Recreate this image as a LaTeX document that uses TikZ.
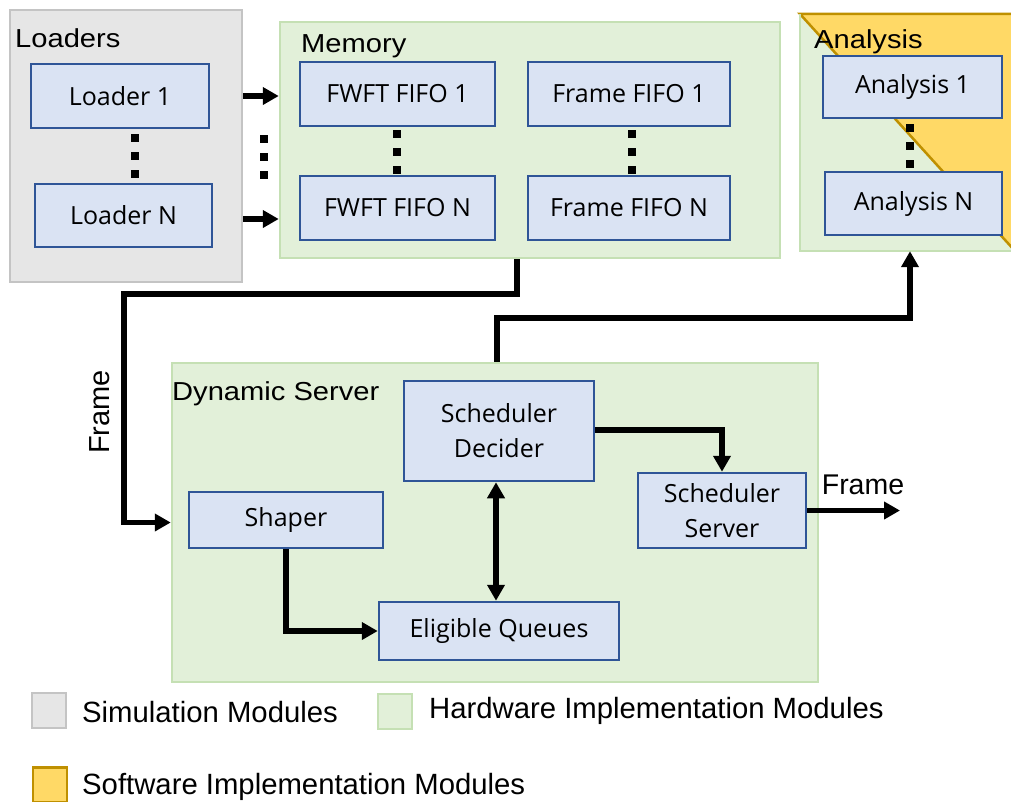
\documentclass[tikz,border=0pt]{standalone}
\usepackage{fontspec}
\setmainfont{Open Sans}
\newfontfamily\grpfont{Liberation Sans}[FakeStretch=1.12]
\newfontfamily\arialfont{Liberation Sans}
\usetikzlibrary{arrows.meta}
\definecolor{blkfill}{HTML}{DAE3F3}
\definecolor{blkline}{HTML}{2F5597}
\definecolor{hwfill}{HTML}{E2F0D9}
\definecolor{hwline}{HTML}{C5E0B4}
\definecolor{simfill}{HTML}{E6E6E6}
\definecolor{simline}{HTML}{C4C4C4}
\definecolor{swfill}{HTML}{FFD966}
\definecolor{swline}{HTML}{BF9000}
\begin{document}
\begin{tikzpicture}[x=1pt,y=-1pt,
  blk/.style={draw=blkline, fill=blkfill, line width=2.5pt, align=center,
    inner sep=0pt, font=\fontsize{25}{35}\selectfont},
  hw/.style={draw=hwline, fill=hwfill, line width=2.5pt, inner sep=0pt},
  sim/.style={draw=simline, fill=simfill, line width=2.5pt, inner sep=0pt},
  grp/.style={anchor=base west, inner sep=0pt, font=\grpfont\fontsize{26}{30}\selectfont},
  lbl/.style={inner sep=0pt, font=\arialfont\fontsize{28.5}{32}\selectfont},
  leglbl/.style={inner sep=0pt, anchor=west, font=\arialfont\fontsize{29.3}{33}\selectfont},
  conn/.style={line width=5.5pt, -{Triangle[length=16pt,width=17pt]}},
  biconn/.style={line width=5.5pt, {Triangle[length=16pt,width=17pt]}-{Triangle[length=16pt,width=17pt]}},
  dotcol/.style={line width=8pt, dash pattern=on 8pt off 10pt},
  legbox/.style={line width=2.5pt, minimum width=34pt, minimum height=35pt, inner sep=0pt}
]
\useasboundingbox (0,0) rectangle (1011,801);
\clip (0,0) rectangle (1011,801);

% ---- module groups ----
\node[sim, minimum width=232pt, minimum height=272pt] (loaders) at (126,146) {};
\node[grp] (loaderslbl) at (15,47) {Loaders};

\node[hw, minimum width=500pt, minimum height=236pt] (mem) at (530,140) {};
\node[grp] (memlbl) at (301,52) {Memory};

% analysis group: hardware half (lower left) and software half (upper right)
\node[inner sep=0pt, minimum width=215pt, minimum height=237pt] (ana) at (907.5,132.5) {};
\fill[hwfill] (ana.north west) rectangle (ana.south east);
\filldraw[fill=swfill, draw=swline, line width=2.5pt, line join=miter]
  (ana.north west) -- (ana.north east) -- (ana.south east) -- cycle;
\draw[hwline, line width=2.5pt] (ana.north west) -- (ana.south west) -- (ana.south east);
\node[grp] (analbl) at (814,48) {Analysis};

\node[hw, minimum width=646pt, minimum height=319pt] (dyn) at (495,522.5) {};
\node[grp] (dynlbl) at (172,400) {Dynamic Server};

% ---- blocks ----
\node[blk, minimum width=178pt, minimum height=64pt] (l1) at (120,96) {Loader 1};
\node[blk, minimum width=177pt, minimum height=63pt] (ln) at (123.5,215.5) {Loader N};

\node[blk, minimum width=195pt, minimum height=64pt] (fw1) at (397.5,94) {FWFT FIFO 1};
\node[blk, minimum width=195pt, minimum height=64pt] (fwn) at (397.5,208) {FWFT FIFO N};
\node[blk, minimum width=202pt, minimum height=64pt] (fr1) at (629,94) {Frame FIFO 1};
\node[blk, minimum width=202pt, minimum height=64pt] (frn) at (629,208) {Frame FIFO N};

\node[blk, minimum width=179pt, minimum height=62pt] (an1) at (912.5,87) {Analysis 1};
\node[blk, minimum width=177pt, minimum height=63pt] (ann) at (913.5,203.5) {Analysis N};

\node[blk, minimum width=190pt, minimum height=100pt] (dec) at (499,431) {Scheduler\\Decider};
\node[blk, minimum width=194pt, minimum height=56pt] (shp) at (286,520) {Shaper};
\node[blk, minimum width=240pt, minimum height=58pt] (elig) at (499,631) {Eligible Queues};
\node[blk, minimum width=168pt, minimum height=75pt] (srv) at (722,510.5) {Scheduler\\Server};

% ---- vertical ellipses ----
\draw[dotcol] (135,134) -- (135,178);
\draw[dotcol] (264,135) -- (264,179);
\draw[dotcol] (397,130) -- (397,174);
\draw[dotcol] (632,130) -- (632,174);
\draw[dotcol] (910,124) -- (910,168);

% ---- connectors ----
\draw[conn] (l1.east -| loaders.east) -- (l1.east -| mem.west);
\draw[conn] ([yshift=-3.5pt]ln.east -| loaders.east) -- ([yshift=-3.5pt]ln.east -| mem.west);

\coordinate (fbend) at (124,294);
\draw[conn] ([xshift=-13pt]mem.south) |- (fbend) |- (dyn.west);
\node[lbl, rotate=90, font=\arialfont\fontsize{29}{32}\selectfont] (framein) at (100,412) {Frame};

\coordinate (abend) at (910,318);
\draw[conn] ([xshift=2pt]dyn.north) |- (abend) -- (abend |- ana.south);

\draw[conn] ([yshift=1pt]dec.east) -| (srv.north);
\draw[biconn] ([xshift=-3pt]dec.south) -- ([xshift=-3pt]elig.north);
\draw[conn] (shp.south) |- (elig.west);

\coordinate (fout) at (900,510.5);
\draw[conn] (srv.east) -- (fout);
\node[lbl] (frameout) at (863,485) {Frame};

% ---- legend ----
\node[legbox, draw=simline, fill=simfill] (legsim) at (49,710.5) {};
\node[leglbl] (legsimt) at (82,712) {Simulation Modules};
\node[legbox, draw=hwline, fill=hwfill] (leghw) at (395,711.5) {};
\node[leglbl] (leghwt) at (429,711) {Hardware Implementation Modules};
\node[legbox, draw=swline, fill=swfill] (legsw) at (50,785) {};
\node[leglbl] (legswt) at (82,787) {Software Implementation Modules};
\end{tikzpicture}
\end{document}
